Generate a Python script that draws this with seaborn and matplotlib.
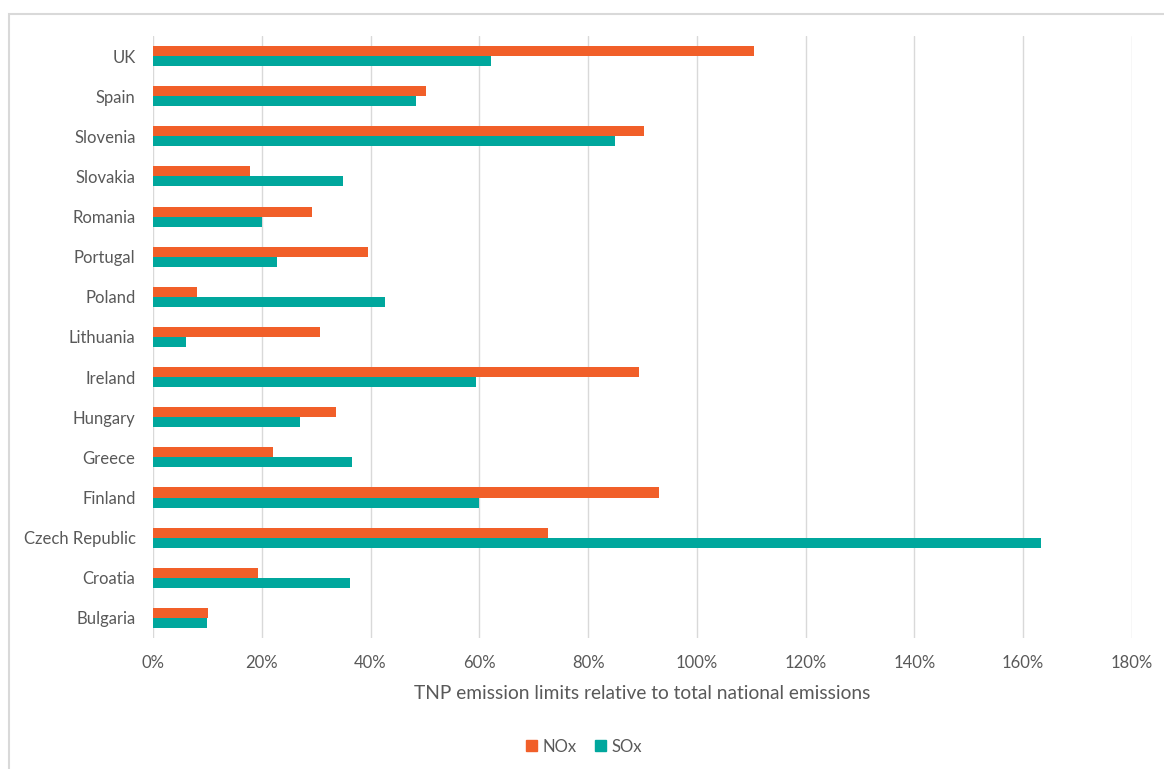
import matplotlib
matplotlib.use("Agg")
import matplotlib.pyplot as plt
from matplotlib.patches import Rectangle
from matplotlib.ticker import PercentFormatter, MultipleLocator
import seaborn as sns
import pandas as pd

countries = ["UK", "Spain", "Slovenia", "Slovakia", "Romania", "Portugal", "Poland",
             "Lithuania", "Ireland", "Hungary", "Greece", "Finland", "Czech Republic",
             "Croatia", "Bulgaria"]
nox = [110.5, 50.2, 90.2, 17.9, 29.3, 39.5, 8.1, 30.8, 89.4, 33.6, 22.1, 93.1, 72.6, 19.4, 10.1]
sox = [62.1, 48.4, 84.9, 34.9, 20.1, 22.8, 42.6, 6.1, 59.4, 27.0, 36.6, 60.0, 163.3, 36.2, 9.9]
series = ["NOx", "SOx"]
colors = {"NOx": "#F15F29", "SOx": "#00A79D"}

df = pd.DataFrame({
    "country": countries * 2,
    "value": nox + sox,
    "pollutant": [series[0]] * len(countries) + [series[1]] * len(countries),
})

sns.set_theme(style="white")
plt.rcParams["font.family"] = ["Lato", "DejaVu Sans"]

fig = plt.figure(figsize=(11.64, 7.69), dpi=100)
ax = fig.add_axes([0.1314, 0.1704, 0.8411, 0.7828])

sns.barplot(data=df, y="country", x="value", hue="pollutant", hue_order=series,
            order=countries, orient="h", palette=colors, width=0.5,
            saturation=1, linewidth=0, ax=ax, legend=False)

ax.set_xlim(0, 180)
ax.set_ylim(len(countries) - 0.5, -0.5)
ax.xaxis.set_major_locator(MultipleLocator(20))
ax.xaxis.set_major_formatter(PercentFormatter(decimals=0))
ax.grid(axis="x", color="#D9D9D9", linewidth=1)
ax.set_axisbelow(True)
for s in ax.spines.values():
    s.set_visible(False)
ax.tick_params(axis="both", length=0, labelsize=12, colors="#595959")
ax.tick_params(axis="y", pad=12.5)
ax.tick_params(axis="x", pad=12)
ax.set_ylabel("")
ax.set_xlabel("TNP emission limits relative to total national emissions",
              fontsize=13.8, color="#595959", labelpad=10)

handles = [Rectangle((0, 0), 1, 1, color=colors[s]) for s in series]
fig.legend(handles, series, loc="center", bbox_to_anchor=(0.502, 0.029), ncol=2,
           frameon=False, fontsize=12, labelcolor="#595959", handlelength=0.65,
           handleheight=0.65, handletextpad=0.35, columnspacing=1.1)

# light chart frame along top and left edges
fig.patches.append(Rectangle((9 / 1164, -0.1), 1.2, 1 - 14 / 769 + 0.1,
                             transform=fig.transFigure, fill=False,
                             edgecolor="#D9D9D9", linewidth=1.5))

fig.savefig("out.png", dpi=100)
